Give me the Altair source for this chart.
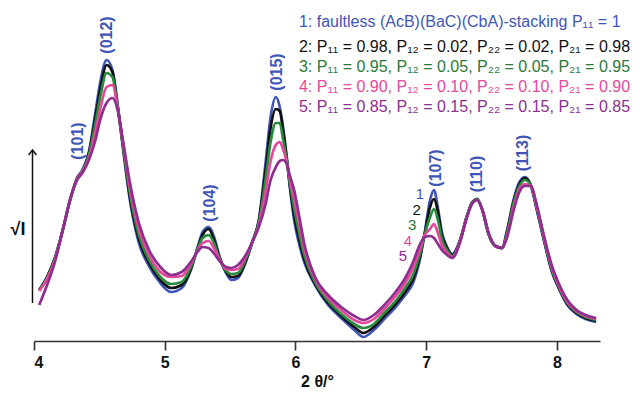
import altair as alt
import pandas as pd

# 2-theta positions (degrees)
theta = [4.04, 4.10, 4.16, 4.22, 4.28, 4.33, 4.37, 4.42, 4.47, 4.51,
         4.555, 4.60, 4.64, 4.68, 4.73, 4.80, 4.88, 4.96, 5.05, 5.13,
         5.20, 5.25, 5.29, 5.335, 5.38, 5.42, 5.47, 5.51, 5.56, 5.62,
         5.67, 5.72, 5.77, 5.81, 5.85, 5.88, 5.905, 5.93, 5.96, 5.99,
         6.03, 6.07, 6.15, 6.25, 6.35, 6.45, 6.52, 6.60, 6.68, 6.76,
         6.84, 6.90, 6.95, 6.99, 7.03, 7.06, 7.09, 7.12, 7.16, 7.20,
         7.26, 7.31, 7.35, 7.39, 7.43, 7.48, 7.53, 7.58, 7.62, 7.67,
         7.71, 7.755, 7.80, 7.85, 7.90, 7.96, 8.02, 8.08, 8.15, 8.22,
         8.30]

# sqrt(I), arbitrary units
s1 = [55, 68, 87, 115, 147, 167, 175, 193, 233, 265,
      285, 275, 240, 198, 148, 103, 79, 63, 53, 57,
      75, 97, 113, 118, 107, 88, 72, 65, 67, 83,
      103, 125, 180, 228, 248, 238, 218, 192, 155, 125,
      100, 82, 60, 40, 27, 15, 8, 15, 26, 37,
      50, 62, 84, 113, 145, 155, 137, 113, 98, 91,
      105, 128, 142, 146, 135, 110, 99, 97, 115, 146,
      162, 168, 160, 133, 105, 74, 55, 40, 31, 26,
      23]
s2 = [55, 68, 87, 115, 147, 167, 174, 192, 228, 258,
      280, 273, 239, 199, 151, 107, 82, 66, 57, 60,
      76, 96, 110, 116, 104, 87, 73, 68, 69, 84,
      103, 124, 173, 217, 236, 234, 215, 190, 157, 130,
      105, 85, 61, 42, 29, 18, 12, 18, 29, 40,
      53, 66, 87, 112, 138, 146, 133, 110, 97, 90,
      105, 128, 142, 146, 135, 110, 99, 97, 114, 144,
      160, 167, 160, 134, 106, 75, 56, 41, 32, 27,
      24]
s3 = [55, 67, 86, 115, 147, 166, 174, 190, 222, 250,
      272, 268, 238, 201, 155, 111, 85, 69, 61, 63,
      78, 95, 107, 110, 101, 86, 74, 71, 72, 86,
      103, 122, 164, 203, 222, 222, 206, 188, 160, 137,
      111, 89, 63, 44, 31, 21, 17, 21, 32, 43,
      57, 70, 90, 111, 128, 136, 125, 106, 95, 89,
      104, 128, 142, 146, 135, 110, 99, 97, 112, 142,
      158, 165, 160, 135, 107, 76, 57, 42, 33, 28,
      25]
s4 = [54, 66, 85, 115, 147, 166, 173, 187, 213, 238,
      258, 260, 237, 203, 160, 117, 90, 74, 68, 69,
      81, 94, 102, 104, 96, 85, 76, 75, 76, 88,
      103, 120, 152, 184, 200, 203, 196, 185, 164, 146,
      120, 95, 66, 47, 35, 25, 22, 26, 36, 48,
      62, 77, 95, 110, 116, 121, 112, 100, 92, 88,
      104, 127, 141, 145, 135, 111, 99, 97, 110, 138,
      155, 161, 159, 136, 108, 78, 58, 43, 34, 29,
      26]
s5 = [40, 60, 83, 115, 147, 165, 172, 185, 205, 227,
      242, 247, 235, 205, 165, 123, 95, 79, 70, 73,
      83, 93, 98, 97, 91, 84, 78, 77, 80, 90,
      103, 118, 140, 165, 178, 184, 185, 182, 168, 155,
      128, 100, 68, 50, 38, 29, 25, 30, 40, 52,
      67, 83, 100, 108, 109, 107, 101, 95, 90, 87,
      103, 127, 141, 145, 135, 111, 99, 97, 108, 135,
      152, 159, 159, 138, 110, 80, 60, 45, 35, 30,
      27]

series_names = ["1", "2", "3", "4", "5"]
series_colors = ["#3f55b8", "#111111", "#2a8a3e", "#e5489b", "#8c2f8f"]
text_colors = ["#3f55b8", "#111111", "#2a7a38", "#e5489b", "#8c2f8f"]

legend_lines = [
    "1: faultless (AcB)(BaC)(CbA)-stacking P\u2081\u2081 = 1",
    "2: P\u2081\u2081 = 0.98, P\u2081\u2082 = 0.02, P\u2082\u2082 = 0.02, P\u2082\u2081 = 0.98",
    "3: P\u2081\u2081 = 0.95, P\u2081\u2082 = 0.05, P\u2082\u2082 = 0.05, P\u2082\u2081 = 0.95",
    "4: P\u2081\u2081 = 0.90, P\u2081\u2082 = 0.10, P\u2082\u2082 = 0.10, P\u2082\u2081 = 0.90",
    "5: P\u2081\u2081 = 0.85, P\u2081\u2082 = 0.15, P\u2082\u2082 = 0.15, P\u2082\u2081 = 0.85",
]
legend_x = [6.027] * 5
legend_y = [318, 293, 273, 253, 233]

peak_labels = ["(101)", "(012)", "(104)", "(015)", "(107)", "(110)", "(113)"]
peak_x = [4.337, 4.558, 5.346, 5.858, 7.075, 7.388, 7.740]
peak_y = [204, 310, 142, 273, 177, 171, 192]

num_x = [6.952, 6.927, 6.893, 6.860, 6.822]
num_y = [151, 135.5, 120, 104.5, 89]

x_ticks = [4, 5, 6, 7, 8]

FONT = "Liberation Sans"

rows = []
for name, vals in zip(series_names, [s1, s2, s3, s4, s5]):
    assert len(vals) == len(theta), (name, len(vals))
    for t, v in zip(theta, vals):
        rows.append({"theta": t, "I": v, "s": name})
df = pd.DataFrame(rows)

xscale = alt.Scale(domain=[4, 8.33], nice=False, zero=False)
yscale = alt.Scale(domain=[4, 345], nice=False, zero=False)

x_axis = alt.Axis(values=x_ticks, format="d", title="2 \u03b8/\u00b0", grid=False,
                  domainColor="#333333", domainWidth=1.6, tickColor="#333333",
                  tickWidth=1.6, tickSize=9, labelFont=FONT, labelFontSize=16,
                  labelFontWeight="bold", labelColor="#111111", labelPadding=4,
                  titleFont=FONT, titleFontSize=16, titleFontWeight="bold",
                  titleColor="#111111", titlePadding=3)


def X(field):
    return alt.X(field, scale=xscale, axis=x_axis)


def Y(field):
    return alt.Y(field, scale=yscale, axis=None)


layers = []
for name, col in zip(series_names, series_colors):
    layers.append(
        alt.Chart(df).transform_filter(alt.datum.s == name)
        .mark_line(color=col, strokeWidth=2.7, interpolate="monotone")
        .encode(x=X("theta:Q"), y=Y("I:Q"))
    )

leg_df = pd.DataFrame({"t": legend_lines, "x": legend_x, "y": legend_y, "c": text_colors})
legend = alt.Chart(leg_df).mark_text(align="left", baseline="alphabetic", font=FONT,
                                     fontSize=16).encode(
    x=X("x:Q"), y=Y("y:Q"), text="t:N", color=alt.Color("c:N", scale=None))

pk_df = pd.DataFrame({"t": peak_labels, "x": peak_x, "y": peak_y})
peaks = alt.Chart(pk_df).mark_text(angle=270, align="center", baseline="middle",
                                   font=FONT, fontSize=16, fontWeight="bold",
                                   color="#3f55b8").encode(
    x=X("x:Q"), y=Y("y:Q"), text="t:N")

num_df = pd.DataFrame({"t": series_names, "x": num_x, "y": num_y, "c": text_colors})
nums = alt.Chart(num_df).mark_text(align="center", baseline="middle", font=FONT,
                                   fontSize=15).encode(
    x=X("x:Q"), y=Y("y:Q"), text="t:N", color=alt.Color("c:N", scale=None))

arrow_df = pd.DataFrame({"x": [3.9885], "y": [42], "y2": [195]})
arrow_line = alt.Chart(arrow_df).mark_rule(color="#111111", strokeWidth=1.5).encode(
    x=X("x:Q"), y=Y("y:Q"), y2="y2:Q")
arrow_head = alt.Chart(arrow_df).mark_point(shape="M-1,1.3L0,0L1,1.3", filled=False,
                                            size=60, color="#111111", strokeWidth=1.5,
                                            opacity=1).encode(
    x=X("x:Q"), y=Y("y2:Q"))

ylab_df = pd.DataFrame({"t": ["\u221aI"], "x": [3.878], "y": [115]})
ylab = alt.Chart(ylab_df).mark_text(align="center", baseline="middle", font=FONT,
                                    fontSize=18, fontWeight="bold", color="#111111").encode(
    x=X("x:Q"), y=Y("y:Q"), text="t:N")

chart = alt.layer(*layers, legend, peaks, nums, arrow_line, arrow_head, ylab).properties(
    width=566, height=341,
    padding={"left": 34, "top": 0, "right": 40, "bottom": 52},
    autosize="none", background="white"
).configure_view(stroke=None)

chart.save("out.html", embed_options={"renderer": "svg", "actions": False})
